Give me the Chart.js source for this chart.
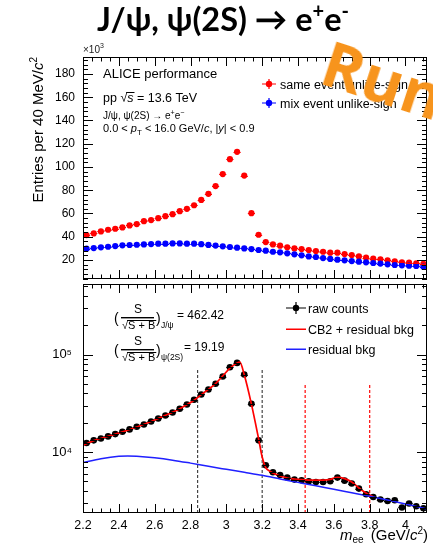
<!DOCTYPE html>
<html>
<head>
<meta charset="utf-8">
<script src="https://cdn.jsdelivr.net/npm/chart.js@4.4.1/dist/chart.umd.min.js"></script>
<style>
  html, body { margin: 0; padding: 0; background: #fff; }
  #wrap { position: relative; width: 433px; height: 545px; overflow: hidden; background: #fff; }
  #wrap canvas { position: absolute; left: 0; top: 0; }
  #title { position: absolute; left: 97px; top: -1px; white-space: nowrap;
           font: bold 32.5px "Lato", "Open Sans", sans-serif; color: #000; }
  #title sup { font-size: 20px; vertical-align: 13px; line-height: 0; }
  #run { position: absolute; left: 338px; top: 19px; white-space: nowrap;
         font: bold 63px "Open Sans", sans-serif; color: #f7941d;
         transform: rotate(18deg); transform-origin: left top; }
</style>
</head>
<body>
<div id="wrap">
  <canvas id="upper" width="433" height="545"></canvas>
  <canvas id="lower" width="433" height="545"></canvas>
  <div id="title">J/ψ, ψ(2S) → e<sup>+</sup>e<sup>-</sup></div>
  <div id="run">Run</div>
</div>
<script>
// ---- invariant-mass bins (GeV/c^2), 40 MeV wide ----
const massBins = [2.22, 2.26, 2.30, 2.34, 2.38, 2.42, 2.46, 2.50, 2.54, 2.58,
                  2.62, 2.66, 2.70, 2.74, 2.78, 2.82, 2.86, 2.90, 2.94, 2.98,
                  3.02, 3.06, 3.10, 3.14, 3.18, 3.22, 3.26, 3.30, 3.34, 3.38,
                  3.42, 3.46, 3.50, 3.54, 3.58, 3.62, 3.66, 3.70, 3.74, 3.78,
                  3.82, 3.86, 3.90, 3.94, 3.98, 4.02, 4.06, 4.10];

// same-event and mixed-event unlike-sign pairs (x10^3 entries)
const sameEvent = [41.4, 42.9, 44.6, 46.0, 46.9, 48.0, 49.7, 50.9, 53.4, 54.3,
                   56.0, 57.7, 59.4, 62.0, 64.0, 67.1, 71.7, 76.9, 83.6, 93.9,
                   106.7, 113.0, 92.6, 60.3, 41.7, 35.4, 33.4, 32.3, 30.9, 30.0,
                   29.4, 28.6, 27.7, 27.1, 26.3, 26.3, 25.1, 24.3, 23.1, 22.0,
                   21.1, 20.6, 19.7, 18.9, 18.0, 17.7, 17.1, 16.6];
const mixEvent  = [29.7, 30.3, 30.9, 31.4, 32.0, 32.6, 32.9, 33.1, 33.4, 33.7,
                   34.0, 34.0, 34.3, 34.3, 34.0, 34.0, 33.6, 33.0, 32.4, 31.8,
                   31.2, 30.6, 30.0, 29.4, 28.6, 28.0, 27.1, 26.6, 25.7, 24.9,
                   24.0, 23.1, 22.6, 21.7, 20.9, 20.3, 19.7, 19.1, 18.6, 18.0,
                   17.4, 16.9, 16.3, 15.7, 15.4, 15.1, 14.9, 14.3];

// background-subtracted raw counts
const rawCounts = [12370, 13180, 13800, 14480, 15290, 16180, 17070, 18190, 19200, 20600,
                   22100, 23700, 25500, 27800, 30800, 34400, 39000, 43900, 50200, 59500,
                   74100, 82200, 62400, 31300, 13180, 7310, 6200, 5820, 5470, 5220,
                   5130, 5010, 4930, 4930, 5010, 5470, 5090, 4750, 4220, 3690,
                   3460, 3260, 3150, 3200, 2700, 2970, 2780, 2650];

// CB2 + residual background fit curve
const fitMass   = [2.20, 2.26, 2.34, 2.42, 2.50, 2.58, 2.66, 2.74, 2.82, 2.86,
                   2.90, 2.94, 2.98, 3.02, 3.06, 3.075, 3.10, 3.14, 3.18, 3.20,
                   3.22, 3.24, 3.26, 3.30, 3.34, 3.38, 3.42, 3.46, 3.50, 3.54,
                   3.58, 3.62, 3.66, 3.70, 3.74, 3.78, 3.82];
const fitCounts = [11700, 13100, 14500, 16100, 18100, 20600, 23800, 27900, 34000, 38800,
                   44000, 50500, 60500, 72500, 82000, 83600, 62000, 31000, 13700, 8900,
                   6920, 6400, 6100, 5680, 5420, 5290, 5210, 5160, 5150, 5160,
                   5250, 5510, 5340, 4930, 4280, 3800, 3470];

// residual background curve
const bkgMass   = [2.20, 2.30, 2.40, 2.45, 2.50, 2.60, 2.70, 2.80, 2.90, 3.00,
                   3.10, 3.20, 3.30, 3.40, 3.50, 3.60, 3.70, 3.80, 3.90, 4.00, 4.12];
const bkgCounts = [7790, 8520, 9040, 9120, 9040, 8720, 8260, 7700, 7140, 6650,
                   6200, 5775, 5305, 4885, 4500, 4152, 3823, 3521, 3219, 2929, 2604];

// signal integration windows
const jpsiWindow  = [2.84, 3.20];
const psi2sWindow = [3.44, 3.80];
const sigJpsi  = '462.42';
const sigPsi2S = '19.19';

// axes
const massRange   = [2.2, 4.12];
const xTickValues = [2.2, 2.4, 2.6, 2.8, 3.0, 3.2, 3.4, 3.6, 3.8, 4.0];
const xTickLabels = ['2.2', '2.4', '2.6', '2.8', '3', '3.2', '3.4', '3.6', '3.8', '4'];
const upperRange  = [3.66, 194.6];
const upperTicks  = [20, 40, 60, 80, 100, 120, 140, 160, 180];
const lowerRange  = [2370, 530000];
const lowerTicks  = [1e4, 1e5];
const lowerLabels = ['10⁴', '10⁵'];

const FONT = '"Liberation Sans", Arial, Helvetica, sans-serif';

const pts = (xs, ys) => xs.map((x, i) => ({ x, y: ys[i] }));

// rich text: list of runs drawn left to right
function measureRuns(ctx, runs, base) {
  let w = 0;
  for (const r of runs) {
    const o = typeof r === 'string' ? { t: r } : r;
    ctx.font = (o.italic ? 'italic ' : '') + (o.size || base) + 'px ' + FONT;
    w += ctx.measureText(o.t).width + (o.gap || 0);
  }
  return w;
}
function drawRuns(ctx, runs, x, y, base) {
  let cx = x;
  for (const r of runs) {
    const o = typeof r === 'string' ? { t: r } : r;
    ctx.font = (o.italic ? 'italic ' : '') + (o.size || base) + 'px ' + FONT;
    ctx.fillText(o.t, cx, y + (o.dy || 0));
    const w = ctx.measureText(o.t).width;
    if (o.over !== undefined) ctx.fillRect(cx - 1, y + o.over, w + 2, 1);
    cx += w + (o.gap || 0);
  }
  return cx;
}

// ROOT-like frame with inward ticks on all four sides
function drawFrame(chart, yTicks) {
  const { ctx, chartArea: a, scales } = chart;
  const xs = scales.x, ys = scales.y;
  ctx.save();
  ctx.strokeStyle = '#000';
  ctx.lineWidth = 1;
  ctx.beginPath();
  for (let i = 0; ; i++) {
    const v = massRange[0] + i * 0.05;
    if (v > massRange[1] + 1e-9) break;
    const len = i % 4 === 0 ? 9 : 4.5;
    const px = Math.round(xs.getPixelForValue(v)) + 0.5;
    ctx.moveTo(px, a.bottom); ctx.lineTo(px, a.bottom - len);
    ctx.moveTo(px, a.top); ctx.lineTo(px, a.top + len);
  }
  for (const t of yTicks) {
    const py = Math.round(ys.getPixelForValue(t.v)) + 0.5;
    ctx.moveTo(a.left, py); ctx.lineTo(a.left + t.len, py);
    ctx.moveTo(a.right, py); ctx.lineTo(a.right - t.len, py);
  }
  ctx.stroke();
  ctx.strokeRect(a.left + 0.5, a.top + 0.5, a.right - a.left - 1, a.bottom - a.top - 1);
  ctx.restore();
}

// horizontal bin-width bars through the markers
const binBars = {
  id: 'binBars',
  afterDatasetsDraw(chart) {
    const { ctx, scales: { x } } = chart;
    ctx.save();
    chart.data.datasets.forEach((ds, di) => {
      if (!ds.binBar) return;
      const meta = chart.getDatasetMeta(di);
      ctx.strokeStyle = ds.backgroundColor;
      ctx.lineWidth = 1;
      ctx.beginPath();
      meta.data.forEach((el, i) => {
        const m = ds.data[i].x;
        const y = Math.round(el.y) + 0.5;
        ctx.moveTo(x.getPixelForValue(m - 0.02), y);
        ctx.lineTo(x.getPixelForValue(m + 0.02), y);
      });
      ctx.stroke();
    });
    ctx.restore();
  }
};

function markerKey(ctx, cx, cy, color, hw, hh) {
  ctx.save();
  ctx.strokeStyle = color; ctx.fillStyle = color; ctx.lineWidth = 1.2;
  ctx.beginPath();
  ctx.moveTo(cx - hw, cy); ctx.lineTo(cx + hw, cy);
  ctx.moveTo(cx, cy - hh); ctx.lineTo(cx, cy + hh);
  ctx.stroke();
  ctx.beginPath(); ctx.arc(cx, cy, 3.2, 0, Math.PI * 2); ctx.fill();
  ctx.restore();
}

// ----- upper panel: same vs mixed event -----
const upperDecor = {
  id: 'upperDecor',
  afterDraw(chart) {
    const ticks = [];
    for (let v = 4; v <= 192; v += 4) ticks.push({ v, len: v % 20 === 0 ? 10 : 5 });
    drawFrame(chart, ticks);
    const ctx = chart.ctx;
    ctx.save();
    ctx.fillStyle = '#000';
    ctx.textBaseline = 'alphabetic';
    ctx.textAlign = 'left';
    drawRuns(ctx, ['ALICE performance'], 103, 78, 13);
    drawRuns(ctx, ['pp ', '√', { t: 's', italic: true, over: -10 }, ' = 13.6 TeV'], 103, 102, 12.5);
    drawRuns(ctx, ['J/ψ, ψ(2S) → e', { t: '+', size: 7, dy: -4 }, 'e', { t: '−', size: 7, dy: -4 }], 103, 119, 10);
    drawRuns(ctx, ['0.0 < ', { t: 'p', italic: true }, { t: 'T', size: 8, dy: 3 },
                   ' < 16.0 GeV/', { t: 'c', italic: true }, ', |', { t: 'y', italic: true }, '| < 0.9'], 103, 132, 11);
    ctx.fillStyle = '#222';
    drawRuns(ctx, ['×10', { t: '3', size: 7, dy: -5 }], 83, 53, 10);
    // axis title
    ctx.fillStyle = '#000';
    const title = ['Entries per 40 MeV/', { t: 'c', italic: true }, { t: '2', size: 10, dy: -6 }];
    const w = measureRuns(ctx, title, 15);
    ctx.translate(43, 57);
    ctx.rotate(-Math.PI / 2);
    drawRuns(ctx, title, -w, 0, 15);
    ctx.restore();
    // legend
    ctx.save();
    ctx.fillStyle = '#000';
    markerKey(ctx, 269, 84, '#ff0000', 7, 5);
    markerKey(ctx, 269, 103, '#0000ff', 7, 5);
    drawRuns(ctx, ['same event unlike-sign'], 280, 88.5, 12.5);
    drawRuns(ctx, ['mix event unlike-sign'], 280, 107.5, 12.5);
    ctx.restore();
  }
};

new Chart(document.getElementById('upper'), {
  type: 'scatter',
  data: {
    datasets: [
      { label: 'mix event unlike-sign', data: pts(massBins, mixEvent), order: 1, binBar: true,
        backgroundColor: '#0000ff', pointRadius: 3.1, pointBorderWidth: 0 },
      { label: 'same event unlike-sign', data: pts(massBins, sameEvent), order: 2, binBar: true,
        backgroundColor: '#ff0000', pointRadius: 3.1, pointBorderWidth: 0 }
    ]
  },
  options: {
    responsive: false, animation: false, events: [],
    layout: { padding: { left: 0, right: 6, top: 57, bottom: 266 } },
    plugins: { legend: { display: false }, tooltip: { enabled: false } },
    scales: {
      x: { type: 'linear', min: massRange[0], max: massRange[1], display: false },
      y: {
        type: 'linear', min: upperRange[0], max: upperRange[1],
        grid: { display: false, drawTicks: false }, border: { display: false },
        afterBuildTicks: s => { s.ticks = upperTicks.map(v => ({ value: v })); },
        afterFit: s => { s.width = 83; },
        ticks: { padding: 8, color: '#000', font: { family: FONT, size: 12 },
                 callback: v => String(v) }
      }
    }
  },
  plugins: [binBars, upperDecor]
});

// ----- lower panel: raw counts and fit -----
const lowerDecor = {
  id: 'lowerDecor',
  afterDraw(chart) {
    const ticks = [];
    const minors = [3e3, 4e3, 5e3, 6e3, 7e3, 8e3, 9e3, 2e4, 3e4, 4e4, 5e4, 6e4, 7e4, 8e4, 9e4, 2e5, 3e5, 4e5, 5e5];
    minors.forEach(v => ticks.push({ v, len: 5 }));
    lowerTicks.forEach(v => ticks.push({ v, len: 10 }));
    drawFrame(chart, ticks);
    const ctx = chart.ctx;
    ctx.save();
    ctx.fillStyle = '#000';
    ctx.textBaseline = 'alphabetic';
    ctx.textAlign = 'left';

    // significance S / sqrt(S+B)
    const frac = (y0, sub, value, valX) => {
      drawRuns(ctx, ['('], 114, y0 + 10, 14);
      ctx.font = '12px ' + FONT;
      const sw = ctx.measureText('S').width;
      drawRuns(ctx, ['S'], 138 - sw / 2, y0, 12);
      ctx.fillRect(121, y0 + 4, 33, 1.4);
      drawRuns(ctx, ['√', { t: 'S + B', over: -9 }], 122, y0 + 16, 11);
      drawRuns(ctx, [')'], 156, y0 + 10, 14);
      drawRuns(ctx, [sub], 161, y0 + 15, 8.5);
      drawRuns(ctx, ['= ' + value], valX, y0 + 6, 12);
    };
    frac(313, 'J/ψ', sigJpsi, 177);
    frac(345, 'ψ(2S)', sigPsi2S, 184);

    // legend
    markerKey(ctx, 296, 308, '#000', 10, 6);
    ctx.fillStyle = '#ff0000'; ctx.fillRect(286, 328.5, 20, 1.5);
    ctx.fillStyle = '#2020ff'; ctx.fillRect(286, 348.5, 20, 1.5);
    ctx.fillStyle = '#000';
    drawRuns(ctx, ['raw counts'], 308, 312.5, 12.5);
    drawRuns(ctx, ['CB2 + residual bkg'], 308, 333.5, 12.5);
    drawRuns(ctx, ['residual bkg'], 308, 353.5, 12.5);

    // x-axis title, right aligned to the frame
    const title = [{ t: 'm', italic: true }, { t: 'ee', size: 10, dy: 3, gap: 3 }, ' (GeV/', { t: 'c', italic: true },
                   { t: '2', size: 10, dy: -6 }, ')'];
    const w = measureRuns(ctx, title, 15);
    drawRuns(ctx, title, chart.chartArea.right + 1 - w, 540, 15);
    ctx.restore();
  }
};

const windowLine = (m, top, color, width) => ({
  data: [{ x: m, y: lowerRange[0] }, { x: m, y: top }],
  showLine: true, borderColor: color, borderWidth: width, borderDash: [3, 2],
  pointRadius: 0, order: 5
});

new Chart(document.getElementById('lower'), {
  type: 'scatter',
  data: {
    datasets: [
      { label: 'residual bkg', data: pts(bkgMass, bkgCounts), showLine: true, order: 1,
        borderColor: '#2020ff', borderWidth: 1.5, pointRadius: 0, cubicInterpolationMode: 'monotone' },
      { label: 'CB2 + residual bkg', data: pts(fitMass, fitCounts), showLine: true, order: 2,
        borderColor: '#ff0000', borderWidth: 1.7, pointRadius: 0, cubicInterpolationMode: 'monotone' },
      { label: 'raw counts', data: pts(massBins, rawCounts), order: 3, binBar: true,
        backgroundColor: '#000', pointRadius: 3.3, pointBorderWidth: 0 },
      windowLine(jpsiWindow[0], 72000, '#222', 1),
      windowLine(jpsiWindow[1], 72000, '#222', 1),
      windowLine(psi2sWindow[0], 51000, '#ff1a1a', 1.3),
      windowLine(psi2sWindow[1], 51000, '#ff1a1a', 1.3)
    ]
  },
  options: {
    responsive: false, animation: false, events: [],
    layout: { padding: { left: 0, right: 6, top: 284, bottom: 0 } },
    plugins: { legend: { display: false }, tooltip: { enabled: false } },
    scales: {
      x: {
        type: 'linear', min: massRange[0], max: massRange[1],
        grid: { display: false, drawTicks: false }, border: { display: false },
        afterBuildTicks: s => { s.ticks = xTickValues.map(v => ({ value: v })); },
        afterFit: s => { s.height = 32; },
        ticks: { padding: 5, color: '#000', maxRotation: 0, autoSkip: false,
                 font: { family: FONT, size: 12.5 },
                 callback: (v, i) => xTickLabels[i] }
      },
      y: {
        type: 'logarithmic', min: lowerRange[0], max: lowerRange[1],
        grid: { display: false, drawTicks: false }, border: { display: false },
        afterBuildTicks: s => { s.ticks = lowerTicks.map(v => ({ value: v })); },
        afterFit: s => { s.width = 83; },
        ticks: { padding: 11, color: '#000', font: { family: FONT, size: 13 },
                 callback: (v, i) => lowerLabels[i] }
      }
    }
  },
  plugins: [binBars, lowerDecor]
});
</script>
</body>
</html>
